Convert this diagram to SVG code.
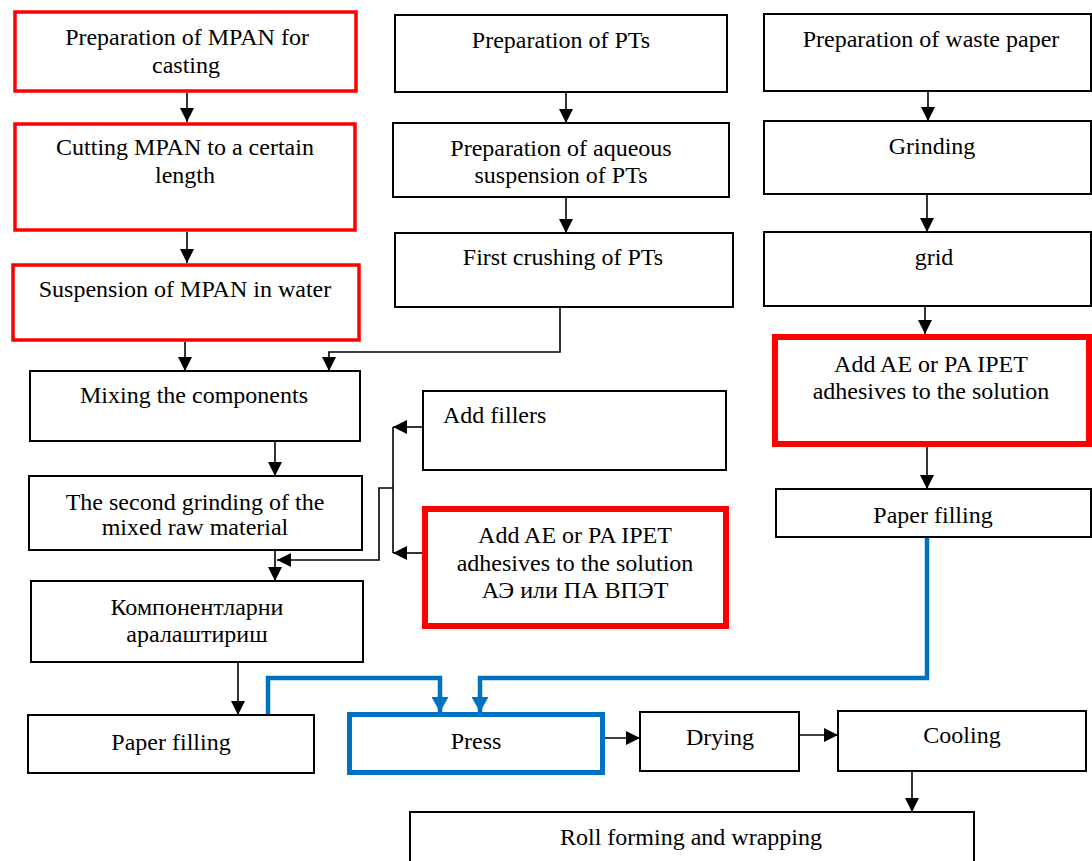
<svg xmlns="http://www.w3.org/2000/svg" width="1092" height="861" viewBox="0 0 1092 861">
<defs>
<style>
.box{fill:#fff;stroke:#000;stroke-width:2}
.red{fill:#fff;stroke:#ff0000;stroke-width:3.5}
.redw{fill:#fff;stroke:#ff0000;stroke-width:6}
.blue{fill:#fff;stroke:#0070c0;stroke-width:5}
.t{font-family:"Liberation Serif","Times New Roman",serif;font-size:24px;fill:#000;text-anchor:middle}
.ts{font-family:"Liberation Serif","Times New Roman",serif;font-size:24px;fill:#000;text-anchor:start}
.c{fill:none;stroke:#000;stroke-width:1.6}
.cb{fill:none;stroke:#0070c0;stroke-width:4.5}
</style>
<marker id="ah" viewBox="0 0 14 14" refX="14" refY="7" markerWidth="14" markerHeight="14" markerUnits="userSpaceOnUse" orient="auto">
<path d="M0,0 L14,7 L0,14 z" fill="#000"/>
</marker>
<marker id="ahb" viewBox="0 0 15 17" refX="15" refY="8.5" markerWidth="15" markerHeight="17" markerUnits="userSpaceOnUse" orient="auto">
<path d="M0,0 L15,8.5 L0,17 z" fill="#0070c0"/>
</marker>
</defs>
<rect width="1092" height="861" fill="#fff"/>

<g id="connectors">
<line class="c" x1="187" y1="93" x2="187" y2="122" marker-end="url(#ah)"/>
<line class="c" x1="187" y1="232" x2="187" y2="263" marker-end="url(#ah)"/>
<line class="c" x1="185" y1="342" x2="185" y2="371" marker-end="url(#ah)"/>
<polyline class="c" points="560,307 560,352 329,352 329,371" marker-end="url(#ah)"/>
<line class="c" x1="275" y1="441" x2="275" y2="476" marker-end="url(#ah)"/>
<line class="c" x1="275" y1="550" x2="275" y2="581" marker-end="url(#ah)"/>
<line class="c" x1="423" y1="427" x2="393" y2="427" marker-end="url(#ah)"/>
<line class="c" x1="422" y1="553" x2="393" y2="553" marker-end="url(#ah)"/>
<line class="c" x1="393" y1="427" x2="393" y2="553"/>
<polyline class="c" points="393,488 379,488 379,560 277,560" marker-end="url(#ah)"/>
<line class="c" x1="238" y1="662" x2="238" y2="715" marker-end="url(#ah)"/>
<line class="c" x1="566" y1="92" x2="566" y2="123" marker-end="url(#ah)"/>
<line class="c" x1="566" y1="197" x2="566" y2="233" marker-end="url(#ah)"/>
<line class="c" x1="928" y1="91" x2="928" y2="121" marker-end="url(#ah)"/>
<line class="c" x1="927" y1="194" x2="927" y2="232" marker-end="url(#ah)"/>
<line class="c" x1="925" y1="306" x2="925" y2="334" marker-end="url(#ah)"/>
<line class="c" x1="927" y1="447" x2="927" y2="489" marker-end="url(#ah)"/>
<line class="c" x1="605" y1="738" x2="640" y2="738" marker-end="url(#ah)"/>
<line class="c" x1="799" y1="735" x2="838" y2="735" marker-end="url(#ah)"/>
<line class="c" x1="912" y1="771" x2="912" y2="812" marker-end="url(#ah)"/>
<polyline class="cb" points="268,715 268,678 440,678 440,712" marker-end="url(#ahb)"/>
<polyline class="cb" points="927,537 927,678 480,678 480,712" marker-end="url(#ahb)"/>
</g>

<g id="n1"><rect class="red" x="15" y="12" width="341" height="79"/>
<text class="t" x="187" y="45">Preparation of MPAN for</text><text class="t" x="186" y="73">casting</text></g>
<g id="n2"><rect class="red" x="15" y="124" width="340" height="106"/>
<text class="t" x="185" y="155">Cutting MPAN to a certain</text><text class="t" x="185" y="183">length</text></g>
<g id="n3"><rect class="red" x="13" y="265" width="346" height="75"/>
<text class="t" x="185" y="297">Suspension of MPAN in water</text></g>
<g id="n4"><rect class="box" x="30" y="371" width="330" height="70"/>
<text class="t" x="194" y="403">Mixing the components</text></g>
<g id="n5"><rect class="box" x="29" y="476" width="333" height="74"/>
<text class="t" x="195" y="510">The second grinding of the</text><text class="t" x="195" y="535">mixed raw material</text></g>
<g id="n6"><rect class="box" x="31" y="581" width="332" height="81"/>
<text class="t" x="197" y="615">Компонентларни</text><text class="t" x="197" y="642">аралаштириш</text></g>
<g id="n7"><rect class="box" x="28" y="715" width="286" height="58"/>
<text class="t" x="171" y="750">Paper filling</text></g>

<g id="n8"><rect class="box" x="395" y="15" width="332" height="77"/>
<text class="t" x="561" y="48">Preparation of PTs</text></g>
<g id="n9"><rect class="box" x="393" y="123" width="336" height="74"/>
<text class="t" x="561" y="156">Preparation of aqueous</text><text class="t" x="561" y="183">suspension of PTs</text></g>
<g id="n10"><rect class="box" x="395" y="233" width="338" height="74"/>
<text class="t" x="563" y="265">First crushing of PTs</text></g>
<g id="n11"><rect class="box" x="423" y="391" width="303" height="79"/>
<text class="ts" x="443" y="423">Add fillers</text></g>
<g id="n12"><rect class="redw" x="425" y="509" width="301" height="117"/>
<text class="t" x="575" y="543">Add AE or PA IPET</text><text class="t" x="575" y="571">adhesives to the solution</text><text class="t" x="575" y="598">АЭ или ПА ВПЭТ</text></g>

<g id="n13"><rect class="box" x="764" y="14" width="327" height="77"/>
<text class="t" x="931" y="47">Preparation of waste paper</text></g>
<g id="n14"><rect class="box" x="764" y="121" width="327" height="73"/>
<text class="t" x="932" y="154">Grinding</text></g>
<g id="n15"><rect class="box" x="764" y="232" width="327" height="74"/>
<text class="t" x="934" y="265">grid</text></g>
<g id="n16"><rect class="redw" x="775" y="337" width="314" height="107"/>
<text class="t" x="931" y="372">Add AE or PA IPET</text><text class="t" x="931" y="399">adhesives to the solution</text></g>
<g id="n17"><rect class="box" x="776" y="489" width="315" height="48"/>
<text class="t" x="933" y="523">Paper filling</text></g>

<g id="n18"><rect class="blue" x="349.5" y="714.5" width="253" height="58"/>
<text class="t" x="476" y="749">Press</text></g>
<g id="n19"><rect class="box" x="640" y="712" width="159" height="59"/>
<text class="t" x="720" y="745">Drying</text></g>
<g id="n20"><rect class="box" x="838" y="711" width="248" height="60"/>
<text class="t" x="962" y="743">Cooling</text></g>
<g id="n21"><rect class="box" x="410" y="812" width="564" height="60"/>
<text class="t" x="691" y="845">Roll forming and wrapping</text></g>
</svg>
